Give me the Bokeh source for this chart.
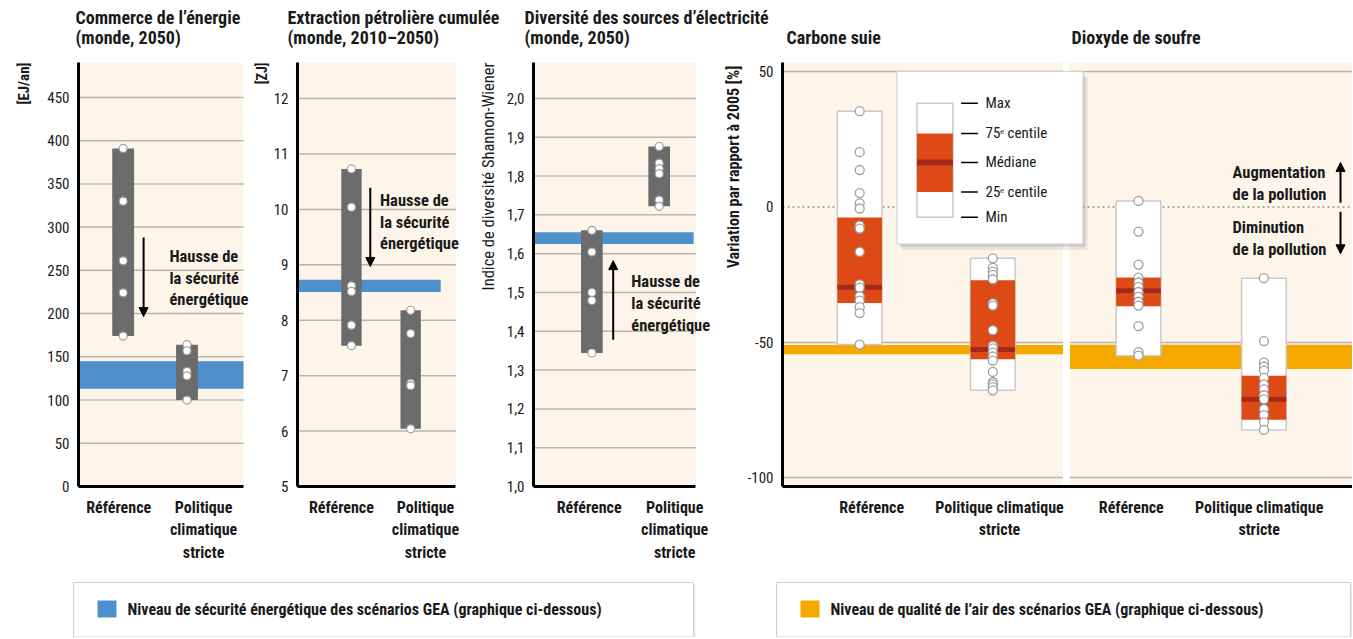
from bokeh.plotting import figure
from bokeh.layouts import row, column
from bokeh.models import FixedTicker, Arrow, NormalHead, CustomJSTickFormatter, Title
from bokeh.embed import file_html
from bokeh.resources import INLINE
from bokeh.core.properties import value

FONT = "Roboto Condensed, Roboto"
BG = "#fdf5e9"
GRID = "#b9b5ae"
BAR = "#6b6b6b"
BLUE = "#4f8fcc"
GOLD = "#f5a800"
RED = "#dd4a15"
DARKRED = "#a4291b"
PTLINE = "#9f9f9f"
INK = "#1a1a1a"

# ---------------- data ----------------
categories = ["Référence", "Politique climatique stricte"]
cat_labels_3 = ["Référence", "Politique\nclimatique\nstricte"]
cat_labels_2 = ["Référence", "Politique climatique\nstricte"]

title_line1 = ["Commerce de l\u2019énergie", "Extraction pétrolière cumulée",
               "Diversité des sources d\u2019électricité"]
title_line2 = ["(monde, 2050)", "(monde, 2010\u20132050)", "(monde, 2050)",
               "Carbone suie", "Dioxyde de soufre"]

# Commerce de l'énergie [EJ/an]
trade_ref = [391, 330, 261, 224, 174]
trade_pol = [164, 157, 133, 128, 100]
trade_gea = [113, 145]
trade_ticks = [0, 50, 100, 150, 200, 250, 300, 350, 400, 450]

# Extraction pétrolière cumulée [ZJ]
oil_ref = [10.73, 10.04, 8.62, 8.52, 7.91, 7.54]
oil_pol = [8.18, 7.76, 6.86, 6.82, 6.04]
oil_gea = [8.51, 8.73]
oil_ticks = [5, 6, 7, 8, 9, 10, 11, 12]

# Diversité des sources d'électricité
div_ref = [1.660, 1.604, 1.500, 1.479, 1.344]
div_pol = [1.876, 1.833, 1.819, 1.806, 1.738, 1.722]
div_gea = [1.625, 1.655]
div_ticks = [1.0, 1.1, 1.2, 1.3, 1.4, 1.5, 1.6, 1.7, 1.8, 1.9, 2.0]

# Carbone suie / Dioxyde de soufre [% vs 2005]
bc_ref = [35.3, 20.2, 13.6, 5.1, 1.3, -0.6, -6.9, -8.0, -16.6, -28.6, -29.8, -33.0,
          -34.6, -37.0, -39.2, -50.8]
bc_pol = [-19.0, -22.5, -23.9, -25.1, -26.7, -35.6, -36.4, -45.5, -51.3, -52.2, -53.8,
          -55.2, -56.7, -60.9, -64.7, -65.5, -66.5, -67.7]
so2_ref = [2.2, -9.1, -21.3, -26.1, -27.9, -29.5, -31.4, -33.2, -35.0, -36.4, -44.0,
           -53.6, -54.9]
so2_pol = [-26.3, -49.5, -57.4, -58.9, -60.4, -63.1, -65.5, -67.3, -69.5, -71.0, -74.6,
           -76.8, -79.5, -82.3]
# box statistics: max, 75e centile, médiane, 25e centile, min
bc_ref_stats = [35.3, -3.9, -29.7, -35.5, -50.8]
bc_pol_stats = [-19.0, -27.1, -52.6, -56.2, -67.7]
so2_ref_stats = [2.2, -26.1, -30.9, -36.7, -54.9]
so2_pol_stats = [-26.3, -62.3, -71.0, -78.5, -82.3]
bc_gea = [-54.4, -51.0]
so2_gea = [-59.8, -50.9]
air_ticks = [50, 0, -50, -100]
air_grid = [50, -50, -100]

# ---------------- helpers ----------------
RH = 503      # height of the chart row
BOTTOM = 73   # room for category labels


def fmt_labels(pos, labels):
    return CustomJSTickFormatter(args=dict(tpos=pos, tlab=labels), code="""
        for (let i = 0; i < tpos.length; i++) {
            if (Math.abs(tpos[i] - tick) < 1e-6) return tlab[i];
        }
        return '';
    """)


def base(width, left, xr, yr, bg):
    p = figure(width=width, height=RH, x_range=xr, y_range=yr, output_backend="svg",
               toolbar_location=None, min_border_left=left, min_border_right=0,
               min_border_top=0, min_border_bottom=BOTTOM,
               background_fill_color=bg, border_fill_color="white", outline_line_color=None)
    p.xgrid.visible = False
    p.ygrid.grid_line_color = GRID
    p.ygrid.grid_line_width = 1.5
    for ax in (p.xaxis[0], p.yaxis[0]):
        ax.axis_line_color = "black"
        ax.axis_line_width = 3
        ax.major_tick_line_color = None
        ax.minor_tick_line_color = None
        ax.major_tick_out = 0
        ax.major_tick_in = 0
    p.yaxis.major_label_text_font = FONT
    p.yaxis.major_label_text_font_size = "15px"
    p.yaxis.major_label_text_color = INK
    p.yaxis.major_label_standoff = 9
    p.xaxis.major_label_text_font = FONT
    p.xaxis.major_label_text_font_size = "16px"
    p.xaxis.major_label_text_font_style = "bold"
    p.xaxis.major_label_text_color = INK
    p.xaxis.major_label_standoff = 11
    return p


def side_title(p, text, size, bold, standoff, offset=0):
    p.add_layout(Title(text=text, align="right", offset=offset, standoff=standoff,
                       text_font=FONT, text_font_size=size,
                       text_font_style="bold" if bold else "normal", text_color=INK), "left")


def note(p, x, y, text, size="16.5px"):
    p.text(x=[x], y=[y], text=[text], text_font=value(FONT), text_font_size=size,
           text_font_style="bold", text_color=INK, text_align="left",
           text_baseline="middle", text_line_height=1.15)


def arrow(p, x, y0, y1):
    p.add_layout(Arrow(end=NormalHead(size=9, fill_color="black", line_color="black", line_width=1),
                       x_start=x, y_start=y0, x_end=x, y_end=y1,
                       line_color="black", line_width=2))


def security_panel(width, left, xr, bg_right, yr, ticks, tick_fmt, ref, pol, gea, band_right,
                   bar_w, xtick_pos):
    p = base(width, left, xr, yr, "white")
    p.ygrid.visible = False
    p.yaxis.ticker = FixedTicker(ticks=ticks)
    p.yaxis.formatter = CustomJSTickFormatter(code=tick_fmt)
    p.xaxis.ticker = FixedTicker(ticks=xtick_pos)
    p.xaxis.formatter = fmt_labels(xtick_pos, cat_labels_3)
    p.xaxis.bounds = (xr[0], bg_right)
    # panel background and grid lines
    p.quad(left=[xr[0]], right=[bg_right], bottom=[yr[0]], top=[yr[1]],
           fill_color=BG, line_color=None)
    gt = ticks[1:]
    p.segment(x0=[xr[0]] * len(gt), x1=[bg_right] * len(gt), y0=gt, y1=gt,
              line_color=GRID, line_width=1.5)
    # GEA band
    p.quad(left=[xr[0]], right=[band_right], bottom=[gea[0]], top=[gea[1]],
           fill_color=BLUE, line_color=None)
    # ranges of scenarios
    for i, vals in enumerate([ref, pol]):
        xc = i + 1
        p.vbar(x=[xc], width=bar_w, bottom=[min(vals)], top=[max(vals)],
               fill_color=BAR, line_color=None)
        p.scatter(x=[xc] * len(vals), y=vals, size=8, fill_color="white",
                  line_color=PTLINE, line_width=1.2)
    return p


# ---------------- header with panel titles ----------------
ph = figure(width=1352, height=62, x_range=(0, 1352), y_range=(0, 62), output_backend="svg",
            toolbar_location=None, x_axis_type=None, y_axis_type=None, min_border=0,
            background_fill_color="white", border_fill_color="white", outline_line_color=None)
title_x = [75, 287, 524, 786, 1071]
ph.text(x=title_x[:3], y=[45] * 3, text=title_line1, text_font=value(FONT),
        text_font_size="18px", text_font_style="bold", text_color=INK,
        text_align="left", text_baseline="middle")
ph.text(x=title_x, y=[25] * 5, text=title_line2, text_font=value(FONT),
        text_font_size="18px", text_font_style="bold", text_color=INK,
        text_align="left", text_baseline="middle")

# ---------------- panel 1 ----------------
x1 = (0.300, 3.011)
p1 = security_panel(251, 77, x1, 2.886, (0, 490.4), trade_ticks, "return tick.toFixed(0);",
                    trade_ref, trade_pol, trade_gea, 2.886, 0.342, [0.93, 2.26])
side_title(p1, "[EJ/an]", "15px", True, 24, offset=0)
arrow(p1, 1.32, 288, 196.5)
note(p1, 1.725, 241, "Hausse de\nla sécurité\nénergétique")

# ---------------- panel 2 ----------------
x2 = (0.0885, 3.011)
p2 = security_panel(219, 41, x2, 2.766, (5, 12.65), oil_ticks, "return tick.toFixed(0);",
                    oil_ref, oil_pol, oil_gea, 2.508, 0.344, [0.83, 2.25])
side_title(p2, "[ZJ]", "14px", True, 1)
arrow(p2, 1.318, 10.39, 8.97)
note(p2, 1.482, 9.77, "Hausse de\nla sécurité\nénergétique")

# ---------------- panel 3 ----------------
x3 = (0.133, 2.911)
p3 = security_panel(250, 60, x3, 2.545, (1.0, 2.0925), div_ticks,
                    "return tick.toFixed(1).replace('.', ',');",
                    div_ref, div_pol, div_gea, 2.512, 0.322, [0.96, 2.23])
side_title(p3, "Indice de diversité Shannon-Wiener", "16.5px", False, 12)
arrow(p3, 1.317, 1.378, 1.582)
note(p3, 1.585, 1.4715, "Hausse de\nla sécurité\nénergétique")

# ---------------- panels 4 & 5 ----------------
x4 = (0.4205, 4.701)
y4 = (-103.17, 53.27)
x_pos = [1, 2, 3.094, 4.036]
air_tick_pos = [1.09, 2.05, 3.04, 4.0]
box_w = 0.335

p4 = base(632, 61, x4, y4, BG)
p4.yaxis.ticker = FixedTicker(ticks=air_ticks)
p4.yaxis.formatter = CustomJSTickFormatter(code="return tick.toFixed(0);")
p4.ygrid.ticker = FixedTicker(ticks=air_grid)
p4.xaxis.ticker = FixedTicker(ticks=air_tick_pos)
p4.xaxis.formatter = fmt_labels(air_tick_pos, cat_labels_2 + cat_labels_2)
side_title(p4, "Variation par rapport à 2005 [%]", "16px", True, 3, offset=3)

# zero line (dotted)
p4.segment(x0=[x4[0]], x1=[x4[1]], y0=[0], y1=[0], line_color="#b3aa9c",
           line_width=2, line_dash="2 3")
# GEA air-quality bands
p4.quad(left=[x4[0]], right=[2.53], bottom=[bc_gea[0]], top=[bc_gea[1]],
        fill_color=GOLD, line_color=None)
p4.quad(left=[2.58], right=[x4[1]], bottom=[so2_gea[0]], top=[so2_gea[1]],
        fill_color=GOLD, line_color=None)
# separator between the two sub-panels
p4.quad(left=[2.527], right=[2.579], bottom=[y4[0]], top=[y4[1]],
        fill_color="white", line_color=None)

for xc, st, pts in zip(x_pos, [bc_ref_stats, bc_pol_stats, so2_ref_stats, so2_pol_stats],
                       [bc_ref, bc_pol, so2_ref, so2_pol]):
    p4.vbar(x=[xc], width=box_w, bottom=[st[4]], top=[st[0]], fill_color="white",
            line_color="#c9c9c9", line_width=1.5)
    p4.vbar(x=[xc], width=box_w, bottom=[st[3]], top=[st[1]], fill_color=RED, line_color=None)
    p4.rect(x=[xc], y=[st[2]], width=box_w, height=5, height_units="screen",
            fill_color=DARKRED, line_color=None)
    p4.scatter(x=[xc] * len(pts), y=pts, size=9, fill_color="white",
               line_color=PTLINE, line_width=1.3)

# explanatory legend box (max / centiles / médiane / min)
leg_box = [1.280, 2.677, -13.67, 50.0]
p4.quad(left=[leg_box[0] + 0.035], right=[leg_box[1] + 0.035], bottom=[leg_box[2] - 2.2],
        top=[leg_box[3] - 2.2], fill_color="#000000", fill_alpha=0.07, line_color=None)
p4.quad(left=[leg_box[0] + 0.018], right=[leg_box[1] + 0.018], bottom=[leg_box[2] - 1.1],
        top=[leg_box[3] - 1.1], fill_color="#000000", fill_alpha=0.10, line_color=None)
p4.quad(left=[leg_box[0]], right=[leg_box[1]], bottom=[leg_box[2]], top=[leg_box[3]],
        fill_color="white", line_color="#d0d0d0", line_width=1)
legend_stats = [38.25, 27.08, 16.4, 5.51, -3.84]
legend_names = ["Max", "75\u1d49 centile", "Médiane", "25\u1d49 centile", "Min"]
p4.quad(left=[1.430], right=[1.700], bottom=[legend_stats[4]], top=[legend_stats[0]],
        fill_color="white", line_color="#c9c9c9", line_width=1.5)
p4.quad(left=[1.430], right=[1.700], bottom=[legend_stats[3]], top=[legend_stats[1]],
        fill_color=RED, line_color=None)
p4.rect(x=[1.565], y=[legend_stats[2]], width=0.27, height=6, height_units="screen",
        fill_color=DARKRED, line_color=None)
p4.segment(x0=[1.762] * 5, x1=[1.888] * 5, y0=legend_stats, y1=legend_stats,
           line_color="black", line_width=1.5)
p4.text(x=[1.945] * 5, y=legend_stats, text=legend_names, text_font=value(FONT),
        text_font_size="15px", text_color=INK, text_baseline="middle", text_align="left")

# pollution direction notes
note(p4, 3.80, 8.53, "Augmentation\nde la pollution")
note(p4, 3.80, -11.8, "Diminution\nde la pollution")
arrow(p4, 4.611, 1.5, 16.4)
arrow(p4, 4.611, -1.77, -17.3)

# ---------------- bottom legends ----------------
pb = figure(width=1352, height=72, x_range=(0, 1352), y_range=(0, 72), output_backend="svg",
            toolbar_location=None, x_axis_type=None, y_axis_type=None, min_border=0,
            background_fill_color="white", border_fill_color="white", outline_line_color=None)
legend_boxes = [[73, 693], [776, 1350]]
legend_colors = [BLUE, GOLD]
legend_texts = ["Niveau de sécurité énergétique des scénarios GEA (graphique ci-dessous)",
                "Niveau de qualité de l\u2019air des scénarios GEA (graphique ci-dessous)"]
for (l, r), c, t in zip(legend_boxes, legend_colors, legend_texts):
    pb.quad(left=[l + 2], right=[r + 2], bottom=[-2], top=[53], fill_color="black",
            fill_alpha=0.08, line_color=None)
    pb.quad(left=[l], right=[r], bottom=[0.5], top=[55], fill_color="white",
            line_color="#cfcfcf", line_width=1)
    pb.quad(left=[l + 24], right=[l + 43], bottom=[20], top=[37], fill_color=c, line_color=None)
    pb.text(x=[l + 54], y=[28.5], text=[t], text_font=value(FONT), text_font_size="16px",
            text_font_style="bold", text_color=INK, text_baseline="middle",
            text_align="left")

layout = column(ph, row(p1, p2, p3, p4), pb)
open("out.html", "w").write(file_html(layout, INLINE))
